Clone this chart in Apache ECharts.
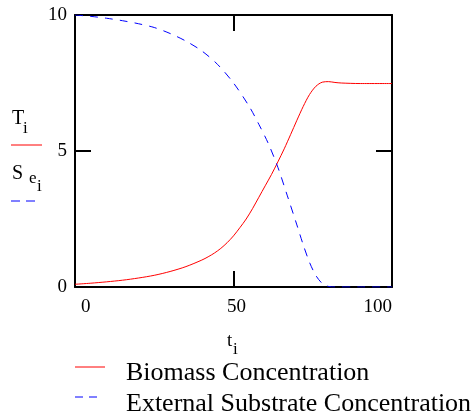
<!DOCTYPE html>
<html><head><meta charset="utf-8">
<script src="https://cdn.jsdelivr.net/npm/echarts@6/dist/echarts.min.js"></script>
<style>html,body{margin:0;padding:0;background:#fff}#c{width:472px;height:418px}</style>
</head><body><div id="c"></div>
<script>
// Biomass concentration T_i
const tBiomass = [0, 5, 10, 15, 20, 25, 30, 35, 40, 42, 44, 46, 48, 50, 52, 54, 56, 58, 60, 62, 64, 66, 68, 70, 72, 74, 76, 78, 80, 82, 84, 90, 100];
const biomass  = [0.1, 0.14, 0.19, 0.25, 0.33, 0.43, 0.57, 0.75, 0.99, 1.11, 1.25, 1.42, 1.63, 1.88, 2.18, 2.5, 2.88, 3.3, 3.72, 4.14, 4.6, 5.08, 5.6, 6.13, 6.64, 7.08, 7.38, 7.53, 7.55, 7.52, 7.5, 7.48, 7.48];
// External substrate concentration S_e_i
const tSubstrate = [0, 5, 10, 15, 20, 25, 30, 35, 40, 45, 50, 55, 58, 61, 64, 67, 70, 72, 74, 76, 78, 80, 82, 90, 100];
const substrate  = [10, 9.95, 9.88, 9.79, 9.68, 9.54, 9.32, 9.04, 8.68, 8.18, 7.5, 6.63, 5.98, 5.27, 4.4, 3.35, 2.28, 1.55, 0.9, 0.42, 0.13, 0.02, 0, 0, 0];
const xTicks = [0, 50, 100];
const yTicks = [0, 5, 10];
const seriesNames = ['Biomass Concentration', 'External Substrate Concentration'];
const seriesColors = ['#ff0000', '#0000ff'];

const zip = (a, b) => a.map((v, i) => [v, b[i]]);
const FONT = "'Liberation Serif', 'Times New Roman', 'DejaVu Serif', serif";
const axisCommon = {
  type: 'value',
  axisLine: { show: true, onZero: false, lineStyle: { color: '#000', width: 2 } },
  axisTick: { show: true, inside: true, length: 16, lineStyle: { color: '#000', width: 2 } },
  splitLine: { show: false }
};
const txt = (s, x, y, size) => ({ type: 'text', x: x, y: y, style: { text: s, fontSize: size, fontFamily: FONT, fill: '#000', verticalAlign: 'middle' } });

const chart = echarts.init(document.getElementById('c'), null, { renderer: 'canvas' });
chart.setOption({
  animation: false,
  backgroundColor: '#fff',
  textStyle: { fontFamily: FONT },
  grid: { left: 75, right: 80, top: 15, bottom: 131, containLabel: false },
  xAxis: [
    Object.assign({}, axisCommon, {
      position: 'bottom', min: xTicks[0], max: xTicks[xTicks.length - 1], interval: xTicks[1] - xTicks[0],
      axisLabel: { color: '#000', fontSize: 19, fontFamily: FONT, margin: 11, padding: [0, 0, 0, 6], alignMinLabel: 'left', alignMaxLabel: 'right' }
    }),
    Object.assign({}, axisCommon, {
      position: 'top', min: xTicks[0], max: xTicks[xTicks.length - 1], interval: xTicks[1] - xTicks[0],
      axisLabel: { show: false }
    })
  ],
  yAxis: [
    Object.assign({}, axisCommon, {
      position: 'left', min: yTicks[0], max: yTicks[yTicks.length - 1], interval: yTicks[1] - yTicks[0],
      axisLabel: { color: '#000', fontSize: 19, fontFamily: FONT, margin: 8 }
    }),
    Object.assign({}, axisCommon, {
      position: 'right', min: yTicks[0], max: yTicks[yTicks.length - 1], interval: yTicks[1] - yTicks[0],
      axisLabel: { show: false }
    })
  ],
  series: [
    { name: seriesNames[0], type: 'line', data: zip(tBiomass, biomass), showSymbol: false, symbol: 'none', smooth: 0.3,
      lineStyle: { color: seriesColors[0], width: 1 }, itemStyle: { color: seriesColors[0] } },
    { name: seriesNames[1], type: 'line', data: zip(tSubstrate, substrate), showSymbol: false, symbol: 'none', smooth: 0.3,
      lineStyle: { color: seriesColors[1], width: 1, type: [8, 7] }, itemStyle: { color: seriesColors[1] } }
  ],
  graphic: [
    // y-axis title
    txt('T', 12, 118.5, 20),
    txt('i', 23, 129, 17),
    { type: 'line', shape: { x1: 11, y1: 145, x2: 42, y2: 145 }, style: { stroke: seriesColors[0], lineWidth: 1 } },
    txt('S', 12, 174, 20),
    txt('e', 29, 179, 17),
    txt('i', 37, 187, 17),
    { type: 'line', shape: { x1: 11, y1: 201, x2: 35, y2: 201 }, style: { stroke: seriesColors[1], lineWidth: 1, lineDash: [9, 6] } },
    // x-axis title
    txt('t', 227, 341, 19),
    txt('i', 233, 350, 17),
    // legend
    { type: 'line', shape: { x1: 75, y1: 367, x2: 105, y2: 367 }, style: { stroke: seriesColors[0], lineWidth: 1 } },
    txt(seriesNames[0], 126, 373, 26),
    { type: 'line', shape: { x1: 75, y1: 397, x2: 99, y2: 397 }, style: { stroke: seriesColors[1], lineWidth: 1, lineDash: [8, 6] } },
    txt(seriesNames[1], 126, 404, 26)
  ]
});
</script></body></html>
